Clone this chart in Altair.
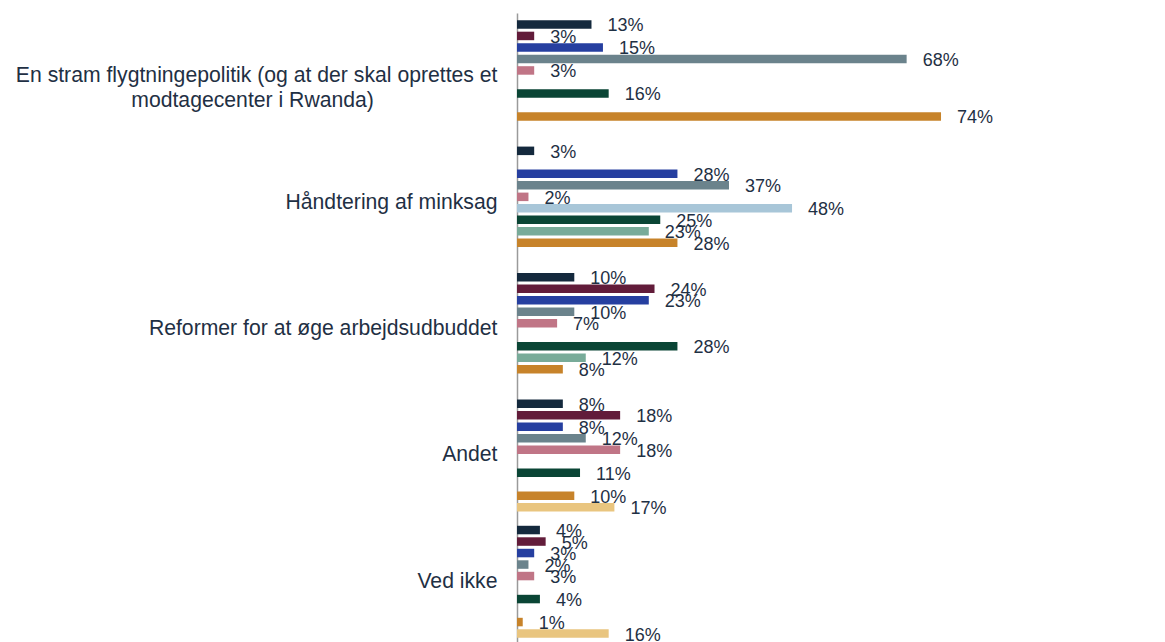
import altair as alt
import pandas as pd

# --- data -------------------------------------------------------------
line1 = "En stram flygtningepolitik (og at der skal oprettes et"
line2 = "modtagecenter i Rwanda)"
categories = [
    line1 + " " + line2,
    "Håndtering af minksag",
    "Reformer for at øge arbejdsudbuddet",
    "Andet",
    "Ved ikke",
]
series = [f"Serie {i}" for i in range(1, 11)]
colors = ["#14293d", "#621c3a", "#263fa0", "#6b838c", "#c07586",
          "#a8c6d8", "#0a4535", "#78ab99", "#c7832a", "#e9c57f"]

vals_flygtning = [13, 3, 15, 68, 3, None, 16, None, 74, None]
vals_mink = [3, None, 28, 37, 2, 48, 25, 23, 28, None]
vals_reformer = [10, 24, 23, 10, 7, None, 28, 12, 8, None]
vals_andet = [8, 18, 8, 12, 18, None, 11, None, 10, 17]
vals_vedikke = [4, 5, 3, 2, 3, None, 4, None, 1, 16]

all_vals = [vals_flygtning, vals_mink, vals_reformer, vals_andet, vals_vedikke]

rows = []
for cat, vals in zip(categories, all_vals):
    for s, v in zip(series, vals):
        if v is not None:
            rows.append({"category": cat, "series": s, "value": v, "label": f"{v}%"})
df = pd.DataFrame(rows)

# --- chart ------------------------------------------------------------
text_color = "#1f3044"
font = "Liberation Sans"
pad = "\u00a0" * 21 + "\u200b"
label_expr = (
    f"datum.value == '{categories[0]}' ? ['{line1}', '{line2}{pad}'] : datum.label"
)

base = alt.Chart(df).encode(
    y=alt.Y(
        "category:N",
        sort=categories,
        scale=alt.Scale(domain=categories, paddingInner=0.09, paddingOuter=0.045),
        axis=alt.Axis(
            title=None,
            ticks=False,
            labelFont=font,
            labelFontSize=21.2,
            labelColor=text_color,
            labelPadding=20,
            labelLimit=0,
            labelLineHeight=25,
            labelExpr=label_expr,
            domainColor="#9a9a9a",
            domainWidth=1.5,
            grid=False,
        ),
    ),
    yOffset=alt.YOffset(
        "series:N",
        sort=series,
        scale=alt.Scale(domain=series, paddingInner=0.26, paddingOuter=0.13),
    ),
    x=alt.X("value:Q", scale=alt.Scale(domain=[0, 100]), axis=None),
)

bars = base.mark_bar().encode(
    color=alt.Color("series:N", scale=alt.Scale(domain=series, range=colors), legend=None)
)

labels = base.mark_text(
    align="left", baseline="middle", dx=16, dy=2,
    fontSize=18, font=font, color=text_color,
).encode(text="label:N")

chart = (
    alt.layer(bars, labels)
    .properties(
        width=573,
        height=632,
        autosize=alt.AutoSizeParams(type="none"),
        padding={"left": 509, "top": 5, "right": 5, "bottom": 5},
    )
    .configure_view(stroke=None)
)

chart.save("out.html", embed_options={"renderer": "svg", "actions": False})
